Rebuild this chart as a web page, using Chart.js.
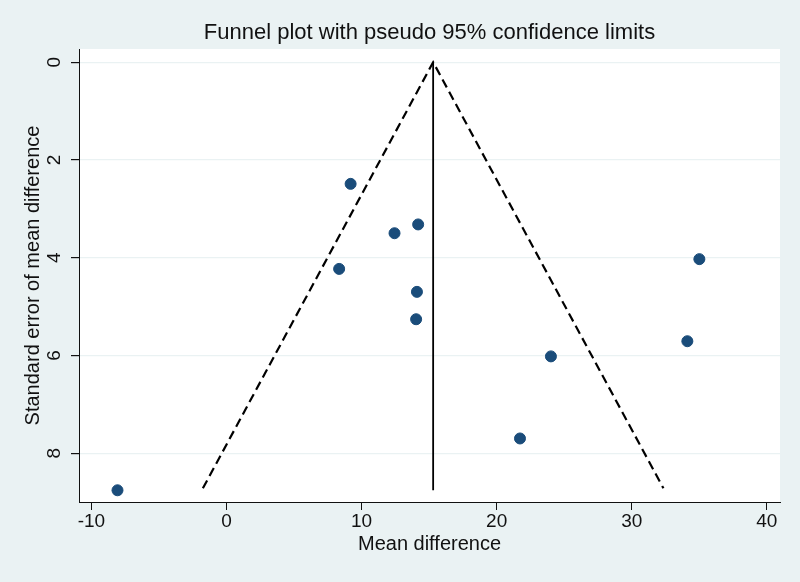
<!DOCTYPE html>
<html lang="en">
  <head>
    <meta charset="utf-8" />
    <title>Funnel plot</title>
    <style>
      * {
        margin: 0;
        padding: 0;
      }
      body {
        background: #eaf2f3;
      }
      .chartBox {
        width: 800px;
        height: 582px;
      }
    </style>
  </head>
  <body>
    <div class="chartBox">
      <canvas id="myChart" width="800" height="582"></canvas>
    </div>

    <script src="https://cdn.jsdelivr.net/npm/chart.js@4/dist/chart.umd.min.js"></script>

    <script>
      // data block
      const meanDiff = [9.19, 14.19, 12.44, 8.34, 14.1, 14.04, 35.01, 34.12, 24.02, 21.73, -8.07];
      const seMeanDiff = [2.49, 3.32, 3.5, 4.23, 4.7, 5.26, 4.03, 5.71, 6.02, 7.7, 8.76];
      const pooledEffect = 15.3;
      const funnelX = [-1.75, 15.3, 32.35];
      const funnelY = [8.72, 0, 8.72];
      const pooledLineY = [0, 8.76];
      const xTicks = [-10, 0, 10, 20, 30, 40];
      const yTicks = [0, 2, 4, 6, 8];

      const FONT = "'Liberation Sans', Arial, sans-serif";
      const BG = "#eaf2f3";

      const points = meanDiff.map((x, i) => ({ x: x, y: seMeanDiff[i] }));
      const funnel = funnelX.map((x, i) => ({ x: x, y: funnelY[i] }));
      const pooled = pooledLineY.map((y) => ({ x: pooledEffect, y: y }));

      // background + white plot region, y labels drawn by hand (rotated like Stata)
      const stataLook = {
        id: "stataLook",
        beforeDraw(chart) {
          const { ctx, chartArea } = chart;
          ctx.save();
          ctx.fillStyle = BG;
          ctx.fillRect(0, 0, chart.width, chart.height);
          ctx.fillStyle = "#ffffff";
          ctx.fillRect(
            chartArea.left,
            chartArea.top,
            chartArea.right - chartArea.left,
            chartArea.bottom - chartArea.top
          );
          ctx.restore();
        },
        afterDraw(chart) {
          const { ctx, chartArea } = chart;
          const y = chart.scales.y;
          ctx.save();
          ctx.fillStyle = "#111";
          ctx.textAlign = "center";
          ctx.textBaseline = "middle";
          ctx.font = "19px " + FONT;
          yTicks.forEach((v) => {
            ctx.save();
            ctx.translate(55, y.getPixelForValue(v));
            ctx.rotate(-Math.PI / 2);
            ctx.fillText(String(v), 0, 0);
            ctx.restore();
          });
          ctx.font = "20px " + FONT;
          ctx.translate(33, (chartArea.top + chartArea.bottom) / 2);
          ctx.rotate(-Math.PI / 2);
          ctx.fillText("Standard error of mean difference", 0, 0);
          ctx.restore();
        },
      };

      // config block
      const config = {
        type: "scatter",
        data: {
          datasets: [
            {
              label: "Studies",
              data: points,
              backgroundColor: "#1a4c7a",
              borderColor: "#1a4c7a",
              pointRadius: 5.5,
              pointHoverRadius: 5.5,
              order: 1,
            },
            {
              label: "Pseudo 95% CI",
              data: funnel,
              showLine: true,
              borderColor: "#000",
              borderWidth: 2.2,
              borderDash: [9, 5],
              pointRadius: 0,
              fill: false,
              order: 2,
            },
            {
              label: "Pooled",
              data: pooled,
              showLine: true,
              borderColor: "#000",
              borderWidth: 1.8,
              pointRadius: 0,
              fill: false,
              order: 2,
            },
          ],
        },
        options: {
          responsive: false,
          animation: false,
          layout: {
            padding: { left: 0, right: 20, top: 0, bottom: 0 },
          },
          plugins: {
            legend: { display: false },
            tooltip: { enabled: false },
            title: {
              display: true,
              fullSize: false,
              text: "Funnel plot with pseudo 95% confidence limits",
              color: "#111",
              font: { family: FONT, size: 22, weight: "normal" },
              padding: { top: 20, bottom: 2.6 },
            },
          },
          scales: {
            x: {
              type: "linear",
              min: -10.92,
              max: 40.98,
              afterBuildTicks: (scale) => {
                scale.ticks = xTicks.map((v) => ({ value: v }));
              },
              afterFit: (scale) => {
                scale.height = 80;
              },
              grid: {
                drawOnChartArea: false,
                tickColor: "#111",
                tickLength: 8,
              },
              border: { color: "#111", width: 1 },
              ticks: {
                color: "#111",
                padding: 0,
                maxRotation: 0,
                font: { family: FONT, size: 19 },
              },
              title: {
                display: true,
                text: "Mean difference",
                color: "#111",
                font: { family: FONT, size: 20 },
                padding: { top: 0, bottom: 26 },
              },
            },
            y: {
              type: "linear",
              reverse: true,
              min: -0.27,
              max: 9.0,
              afterBuildTicks: (scale) => {
                scale.ticks = yTicks.map((v) => ({ value: v }));
              },
              afterFit: (scale) => {
                scale.width = 79;
              },
              grid: {
                color: BG,
                lineWidth: 1.2,
                tickColor: "#111",
                tickLength: 8,
              },
              border: { color: "#111", width: 1 },
              ticks: { display: false },
            },
          },
        },
        plugins: [stataLook],
      };

      // init render block
      const ctx = document.getElementById("myChart");
      const myChart = new Chart(ctx, config);
    </script>
  </body>
</html>
